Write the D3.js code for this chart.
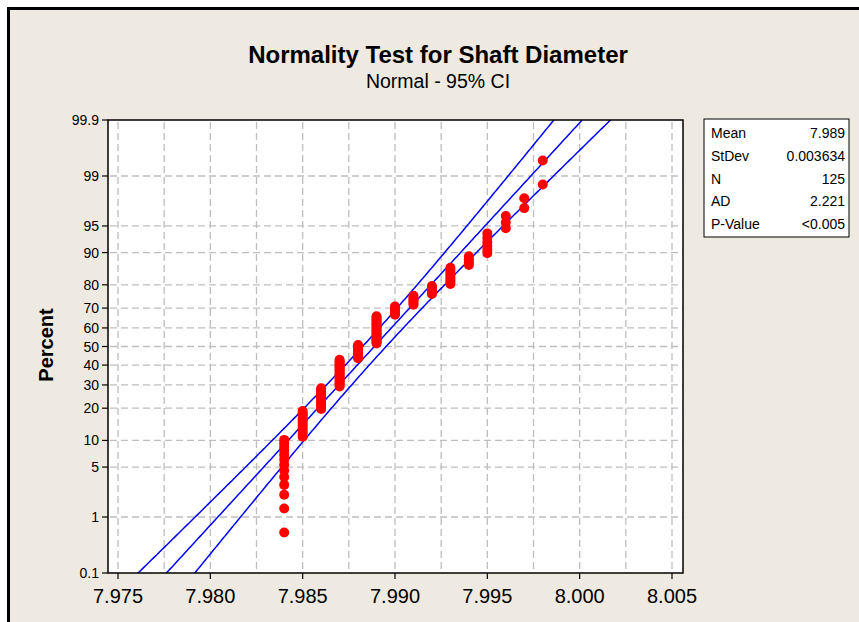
<!DOCTYPE html>
<html>
<head>
<meta charset="utf-8">
<script src="https://cdn.jsdelivr.net/npm/d3@7"></script>
<style>
body { margin: 0; background: #fff; }
svg text { font-family: "Liberation Sans", Arial, sans-serif; fill: #000; }
</style>
</head>
<body>
<svg id="viz" width="859" height="622"></svg>
<script>
// measured shaft diameters and how many parts had each value (N = 125)
var diameters = [7.984, 7.985, 7.986, 7.987, 7.988, 7.989, 7.990, 7.991, 7.992, 7.993, 7.994, 7.995, 7.996, 7.997, 7.998];
var counts = [13, 11, 12, 18, 10, 19, 6, 6, 5, 8, 4, 6, 3, 2, 2];

var xTicks = [7.975, 7.980, 7.985, 7.990, 7.995, 8.000, 8.005];
var xGrid = [7.975, 7.9775, 7.980, 7.9825, 7.985, 7.9875, 7.990, 7.9925, 7.995, 7.9975, 8.000, 8.0025, 8.005];
var yTicks = [0.1, 1, 5, 10, 20, 30, 40, 50, 60, 70, 80, 90, 95, 99, 99.9];
var yGrid = [1, 5, 10, 20, 30, 40, 50, 60, 70, 80, 90, 95, 99];

var statLabels = ["Mean", "StDev", "N", "AD", "P-Value"];
var statValues = ["7.989", "0.003634", "125", "2.221", "<0.005"];

var plot = { left: 108, top: 120, right: 683, bottom: 573 };

// inverse normal cdf (Acklam), used for the probability axis
function probit(p) {
    var a = [-3.969683028665376e+01, 2.209460984245205e+02, -2.759285104469687e+02, 1.383577518672690e+02, -3.066479806614716e+01, 2.506628277459239e+00];
    var b = [-5.447609879822406e+01, 1.615858368580409e+02, -1.556989798598866e+02, 6.680131188771972e+01, -1.328068155288572e+01];
    var c = [-7.784894002430293e-03, -3.223964580411365e-01, -2.400758276161838e+00, -2.549732539343734e+00, 4.374664141464968e+00, 2.938163982698783e+00];
    var d = [7.784695709041462e-03, 3.224671290700398e-01, 2.445134137142996e+00, 3.754408661907416e+00];
    var q, r;
    if (p < 0.02425) {
        q = Math.sqrt(-2 * Math.log(p));
        return (((((c[0] * q + c[1]) * q + c[2]) * q + c[3]) * q + c[4]) * q + c[5]) / ((((d[0] * q + d[1]) * q + d[2]) * q + d[3]) * q + 1);
    }
    if (p <= 1 - 0.02425) {
        q = p - 0.5; r = q * q;
        return (((((a[0] * r + a[1]) * r + a[2]) * r + a[3]) * r + a[4]) * r + a[5]) * q / (((((b[0] * r + b[1]) * r + b[2]) * r + b[3]) * r + b[4]) * r + 1);
    }
    q = Math.sqrt(-2 * Math.log(1 - p));
    return -(((((c[0] * q + c[1]) * q + c[2]) * q + c[3]) * q + c[4]) * q + c[5]) / ((((d[0] * q + d[1]) * q + d[2]) * q + d[3]) * q + 1);
}

var svg = d3.select("#viz");

// frame
svg.append("rect").attr("x", 10).attr("y", 10).attr("width", 849).attr("height", 612).attr("fill", "#EEEAE1");
svg.append("rect").attr("x", 7).attr("y", 7).attr("width", 852).attr("height", 3).attr("fill", "#000");
svg.append("rect").attr("x", 7).attr("y", 7).attr("width", 3).attr("height", 615).attr("fill", "#000");

var x = d3.scaleLinear().domain([7.975, 8.005]).range([118, 672]);
var zScale = d3.scaleLinear().domain([probit(0.001), probit(0.999)]).range([plot.bottom, plot.top]);
function y(pct) { return zScale(probit(pct / 100)); }

// expand counts into sorted observations
var obs = [];
diameters.forEach(function (v, i) {
    for (var k = 0; k < counts[i]; k++) obs.push(v);
});
var n = obs.length;
var mean = d3.mean(obs);
var sd = d3.deviation(obs);
var points = obs.map(function (v, i) {
    return { x: v, p: 100 * (i + 1 - 0.3) / (n + 0.4) };   // median ranks
});

svg.append("rect")
    .attr("x", plot.left).attr("y", plot.top)
    .attr("width", plot.right - plot.left).attr("height", plot.bottom - plot.top)
    .attr("fill", "#fff");

svg.append("clipPath").attr("id", "clip")
    .append("rect")
    .attr("x", plot.left).attr("y", plot.top)
    .attr("width", plot.right - plot.left).attr("height", plot.bottom - plot.top);

// grid
var grid = svg.append("g").attr("stroke", "#BEBEBE").attr("stroke-width", 1.3).attr("stroke-dasharray", "7,4");
grid.selectAll("line.v").data(xGrid).enter().append("line")
    .attr("x1", function (d) { return x(d); }).attr("x2", function (d) { return x(d); })
    .attr("y1", plot.top + 2).attr("y2", plot.bottom);
grid.selectAll("line.h").data(yGrid).enter().append("line")
    .attr("x1", plot.left + 2).attr("x2", plot.right)
    .attr("y1", function (d) { return y(d); }).attr("y2", function (d) { return y(d); });

// fitted line and 95% CI for percentiles
var zs = d3.range(probit(0.0005), probit(0.9995) + 0.01, 0.02);
function band(k) {
    return zs.map(function (z) {
        var se = sd * Math.sqrt(1 / n + z * z / (2 * n));
        return [x(mean + sd * z + k * 1.96 * se), zScale(z)];
    });
}
var lineGen = d3.line();
var fitG = svg.append("g").attr("clip-path", "url(#clip)");
[-1, 0, 1].forEach(function (k) {
    fitG.append("path").attr("d", lineGen(band(k)))
        .attr("fill", "none").attr("stroke", "#0000FF").attr("stroke-width", 1.5);
});

// data points
svg.append("g").selectAll("circle").data(points).enter().append("circle")
    .attr("cx", function (d) { return x(d.x); })
    .attr("cy", function (d) { return y(d.p); })
    .attr("r", 5)
    .attr("fill", "#FF0000");

// plot border
svg.append("rect")
    .attr("x", plot.left).attr("y", plot.top)
    .attr("width", plot.right - plot.left).attr("height", plot.bottom - plot.top)
    .attr("fill", "none").attr("stroke", "#000").attr("stroke-width", 1.5);

// y axis
var yAxis = svg.append("g");
yAxis.selectAll("line").data(yTicks).enter().append("line")
    .attr("x1", plot.left - 6).attr("x2", plot.left)
    .attr("y1", function (d) { return y(d); }).attr("y2", function (d) { return y(d); })
    .attr("stroke", "#000").attr("stroke-width", 1.2);
yAxis.selectAll("text").data(yTicks).enter().append("text")
    .attr("x", plot.left - 9)
    .attr("y", function (d) { return y(d); })
    .attr("dy", "0.36em")
    .attr("text-anchor", "end")
    .style("font-size", "14px")
    .text(function (d) { return d; });

// x axis
var xAxis = svg.append("g");
xAxis.selectAll("line").data(xTicks).enter().append("line")
    .attr("x1", function (d) { return x(d); }).attr("x2", function (d) { return x(d); })
    .attr("y1", plot.bottom).attr("y2", plot.bottom + 6)
    .attr("stroke", "#000").attr("stroke-width", 1.2);
xAxis.selectAll("text").data(xTicks).enter().append("text")
    .attr("x", function (d) { return x(d); })
    .attr("y", 603)
    .attr("text-anchor", "middle")
    .style("font-size", "20px")
    .text(function (d) { return d3.format(".3f")(d); });

svg.append("text")
    .attr("transform", "translate(53,345) rotate(-90)")
    .attr("text-anchor", "middle")
    .style("font-size", "20px").style("font-weight", "bold")
    .text("Percent");

// titles
svg.append("text").attr("x", 438).attr("y", 63).attr("text-anchor", "middle")
    .style("font-size", "24px").style("font-weight", "bold")
    .text("Normality Test for Shaft Diameter");
svg.append("text").attr("x", 438).attr("y", 88).attr("text-anchor", "middle")
    .style("font-size", "19.5px")
    .text("Normal - 95% CI");

// stats box
var box = svg.append("g");
box.append("rect").attr("x", 704).attr("y", 119).attr("width", 145).attr("height", 118)
    .attr("fill", "#fff").attr("stroke", "#000").attr("stroke-width", 1);
statLabels.forEach(function (lab, i) {
    box.append("text").attr("x", 711).attr("y", 138 + i * 22.8)
        .style("font-size", "14px").text(lab);
    box.append("text").attr("x", 845).attr("y", 138 + i * 22.8)
        .attr("text-anchor", "end").style("font-size", "14px").text(statValues[i]);
});
</script>
</body>
</html>
